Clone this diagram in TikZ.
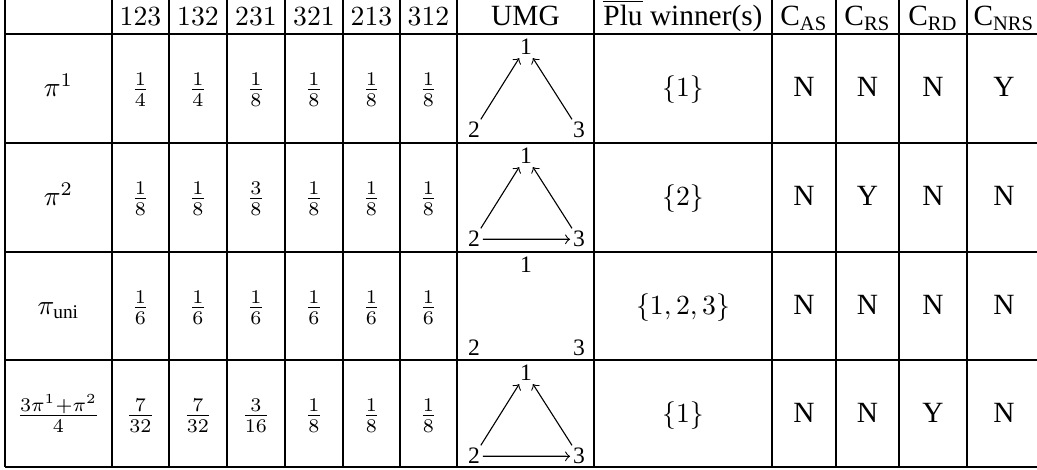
\documentclass[tikz,border=0pt]{standalone}
\usepackage{amsmath}
\usepackage[no-math]{fontspec}
\setmainfont{Liberation Serif}
\tikzset{
  px/.style={x=0.361pt,y=-0.361pt},
  rule/.style={line width=0.4pt,black},
  cell/.style={anchor=base,inner sep=0pt},
  tx/.style={cell,font=\fontsize{10.6}{12}\selectfont},
  gl/.style={anchor=base,inner sep=0.9pt,font=\fontsize{8.5}{10}\selectfont},
  umgedge/.style={->,line width=0.4pt}
}
\begin{document}
\begin{tikzpicture}[px]
\useasboundingbox (0,0) rectangle (1037,470);
% grid
\foreach \x in {5,112,169,227,285,343,400,457,594,772,836,899,967}
  \draw[rule] (\x,0) -- (\x,467);
\foreach \y in {34,143,252,360,467}
  \draw[rule] (5,\y) -- (1037,\y);
% header
\node[cell] (h1) at (140.5,26) {$123$};
\node[cell] (h2) at (198,26) {$132$};
\node[cell] (h3) at (256,26) {$231$};
\node[cell] (h4) at (314,26) {$321$};
\node[cell] (h5) at (371.5,26) {$213$};
\node[cell] (h6) at (428.5,26) {$312$};
\node[tx] (hU) at (525.5,26) {UMG};
\node[tx] (hP) at (683,26) {$\overline{\text{Plu}}$ winner(s)};
\node[tx] (hA) at (804,26) {C$_{\text{AS}}$};
\node[tx] (hR) at (867.5,26) {C$_{\text{RS}}$};
\node[tx] (hD) at (933,26) {C$_{\text{RD}}$};
\node[tx] (hN) at (1004,26) {C$_{\text{NRS}}$};
% row 1
\node[cell] (r1l) at (58.5,96.5) {$\pi^1$};
\node[cell] (r1a) at (140.5,96.5) {$\frac{1}{4}$};
\node[cell] (r1b) at (198,96.5) {$\frac{1}{4}$};
\node[cell] (r1c) at (256,96.5) {$\frac{1}{8}$};
\node[cell] (r1d) at (314,96.5) {$\frac{1}{8}$};
\node[cell] (r1e) at (371.5,96.5) {$\frac{1}{8}$};
\node[cell] (r1f) at (428.5,96.5) {$\frac{1}{8}$};
\node[cell] (r1w) at (683,96.5) {$\{1\}$};
\node[tx] (r1A) at (804,96.5) {N};
\node[tx] (r1R) at (867.5,96.5) {N};
\node[tx] (r1D) at (933,96.5) {N};
\node[tx] (r1N) at (1004,96.5) {Y};
% row 2
\node[cell] (r2l) at (58.5,205.5) {$\pi^2$};
\node[cell] (r2a) at (140.5,205.5) {$\frac{1}{8}$};
\node[cell] (r2b) at (198,205.5) {$\frac{1}{8}$};
\node[cell] (r2c) at (256,205.5) {$\frac{3}{8}$};
\node[cell] (r2d) at (314,205.5) {$\frac{1}{8}$};
\node[cell] (r2e) at (371.5,205.5) {$\frac{1}{8}$};
\node[cell] (r2f) at (428.5,205.5) {$\frac{1}{8}$};
\node[cell] (r2w) at (683,205.5) {$\{2\}$};
\node[tx] (r2A) at (804,205.5) {N};
\node[tx] (r2R) at (867.5,205.5) {Y};
\node[tx] (r2D) at (933,205.5) {N};
\node[tx] (r2N) at (1004,205.5) {N};
% row 3
\node[cell] (r3l) at (58.5,314.5) {$\pi_{\text{uni}}$};
\node[cell] (r3a) at (140.5,314.5) {$\frac{1}{6}$};
\node[cell] (r3b) at (198,314.5) {$\frac{1}{6}$};
\node[cell] (r3c) at (256,314.5) {$\frac{1}{6}$};
\node[cell] (r3d) at (314,314.5) {$\frac{1}{6}$};
\node[cell] (r3e) at (371.5,314.5) {$\frac{1}{6}$};
\node[cell] (r3f) at (428.5,314.5) {$\frac{1}{6}$};
\node[cell] (r3w) at (683,314.5) {$\{1,2,3\}$};
\node[tx] (r3A) at (804,314.5) {N};
\node[tx] (r3R) at (867.5,314.5) {N};
\node[tx] (r3D) at (933,314.5) {N};
\node[tx] (r3N) at (1004,314.5) {N};
% row 4
\node[cell] (r4l) at (58.5,422.5) {$\frac{3\pi^1+\pi^2}{4}$};
\node[cell] (r4a) at (140.5,422.5) {$\frac{7}{32}$};
\node[cell] (r4b) at (198,422.5) {$\frac{7}{32}$};
\node[cell] (r4c) at (256,422.5) {$\frac{3}{16}$};
\node[cell] (r4d) at (314,422.5) {$\frac{1}{8}$};
\node[cell] (r4e) at (371.5,422.5) {$\frac{1}{8}$};
\node[cell] (r4f) at (428.5,422.5) {$\frac{1}{8}$};
\node[cell] (r4w) at (683,422.5) {$\{1\}$};
\node[tx] (r4A) at (804,422.5) {N};
\node[tx] (r4R) at (867.5,422.5) {N};
\node[tx] (r4D) at (933,422.5) {Y};
\node[tx] (r4N) at (1004,422.5) {N};
% UMG graphs
\foreach \r/\t in {1/34,2/143,3/252,4/360}{
  \node[gl] (g\r a) at (526,\t+21) {1};
  \node[gl] (g\r b) at (474,\t+104) {2};
  \node[gl] (g\r c) at (579,\t+104) {3};
}
\foreach \r in {1,2,4}{
  \draw[umgedge] (g\r b) -- (g\r a);
  \draw[umgedge] (g\r c) -- (g\r a);
}
\foreach \r in {2,4}
  \draw[umgedge] (g\r b) -- (g\r c);
\end{tikzpicture}
\end{document}
